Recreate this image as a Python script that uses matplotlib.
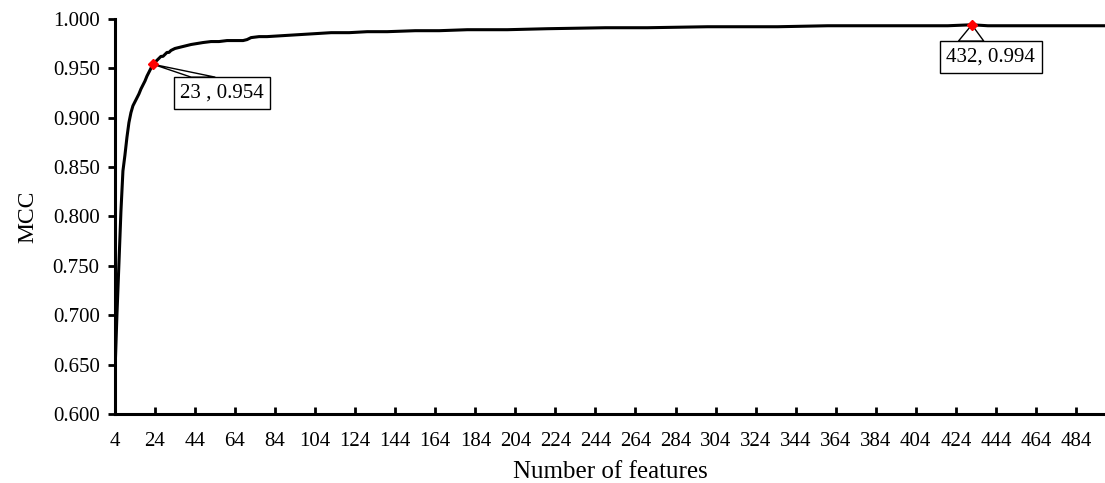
import matplotlib.pyplot as plt
import matplotlib.ticker as ticker
from matplotlib.patches import Polygon

plt.rcParams.update({
    "font.family": ["Liberation Serif", "DejaVu Serif"],
    "font.size": 15,
})

# number of selected features vs MCC
features = [4, 5, 6, 7, 8, 9, 10, 11, 12, 13, 14, 15, 16, 17, 18, 19, 20, 21, 22,
            23, 24, 25, 26, 27, 28, 29, 30, 31, 32, 33, 34, 36, 38, 40, 42, 45, 48,
            52, 56, 60, 64, 68, 70, 72, 76, 80, 88, 96, 104, 112, 121, 130, 140,
            154, 166, 180, 200, 220, 249, 270, 300, 335, 360, 380, 400, 420, 432,
            440, 460, 480, 498]
mcc = [0.640, 0.700, 0.752, 0.805, 0.846, 0.862, 0.880, 0.895, 0.905, 0.912,
       0.916, 0.920, 0.924, 0.929, 0.933, 0.937, 0.942, 0.946, 0.950,
       0.954, 0.956, 0.958, 0.960, 0.962, 0.962, 0.964, 0.966, 0.966, 0.968,
       0.969, 0.970, 0.971, 0.972, 0.973, 0.974, 0.975, 0.976,
       0.977, 0.977, 0.978, 0.978, 0.978, 0.979, 0.981, 0.982, 0.982, 0.983,
       0.984, 0.985, 0.986, 0.986, 0.987, 0.987,
       0.988, 0.988, 0.989, 0.989, 0.990, 0.991, 0.991, 0.992, 0.992, 0.993,
       0.993, 0.993, 0.993, 0.994,
       0.993, 0.993, 0.993, 0.993]

best_points = [(23, 0.954, "23 , 0.954"), (432, 0.994, "432, 0.994")]
label_pos = [(57.5, 0.925), (441.5, 0.9615)]

fig = plt.figure(figsize=(11.05, 4.83), dpi=100)
ax = fig.add_axes([0.104, 0.143, 0.896, 0.818])

ax.plot(features, mcc, color="black", linewidth=2.2, zorder=3)

texts = []
for (x, y, txt), (tx, ty) in zip(best_points, label_pos):
    ax.plot(x, y, marker="D", color="red", markersize=5, zorder=7)
    t = ax.text(tx, ty, txt, ha="center", va="center", fontsize=15, zorder=6,
                bbox=dict(boxstyle="square,pad=0.3", fc="white", ec="black", lw=1))
    texts.append((t, x, y))

ax.set_xlim(4, 498.5)
ax.set_ylim(0.6, 1.0)
ax.set_xticks(range(4, 485, 20))
ax.set_yticks([0.6 + 0.05 * i for i in range(9)])
ax.yaxis.set_major_formatter(ticker.FormatStrFormatter("%.3f"))

for s in ["top", "right"]:
    ax.spines[s].set_visible(False)
for s in ["left", "bottom"]:
    ax.spines[s].set_linewidth(2.2)

ax.tick_params(axis="x", direction="in", length=5, width=2, pad=13, labelsize=15)
ax.tick_params(axis="y", direction="out", length=5, width=2, pad=6, labelsize=15)

ax.set_xlabel("Number of features", fontsize=18, labelpad=7)
ax.set_ylabel("MCC", fontsize=17, labelpad=10)

# callout wedges: from the marked point to the top edge of each label box
fig.canvas.draw()
inv = fig.transFigure.inverted()
for t, x, y in texts:
    bb = t.get_bbox_patch().get_window_extent()
    px, py = ax.transData.transform((x, y))
    x0 = bb.x0 + 0.18 * bb.width
    x1 = bb.x0 + 0.43 * bb.width
    verts = inv.transform([(px, py), (x0, bb.y1), (x1, bb.y1)])
    ax.add_patch(Polygon(verts, closed=True, fc="white", ec="black", lw=1,
                         transform=fig.transFigure, zorder=5.5))

fig.savefig("out.png", dpi=100)
